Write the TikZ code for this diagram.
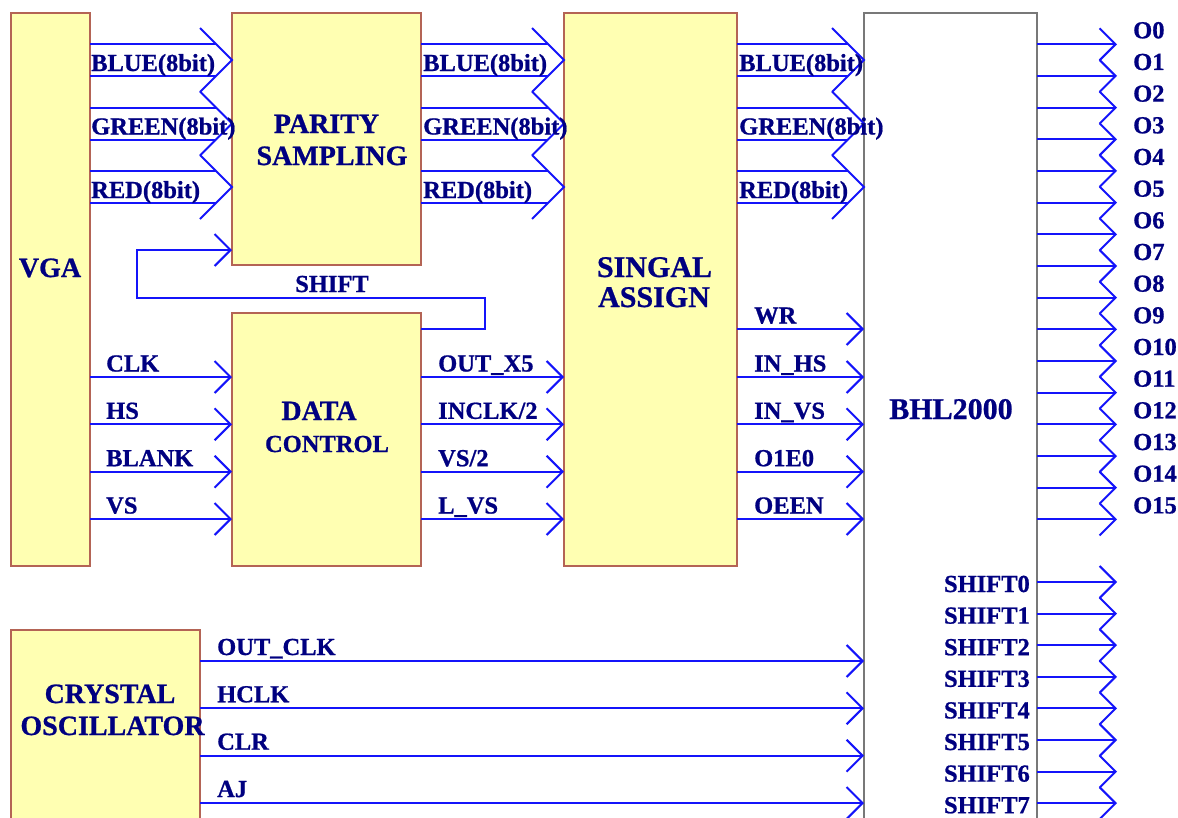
\documentclass[tikz,border=0pt]{standalone}
\usepackage{fontspec}
\setmainfont{Liberation Serif}[BoldFont={Liberation Serif Bold}]
\newfontfamily\heavyfont{Liberation Serif Bold}[FakeBold=0.8]
\usetikzlibrary{arrows.meta,calc}
\definecolor{navy}{RGB}{0,0,128}
\definecolor{wire}{RGB}{20,20,250}
\definecolor{boxfill}{RGB}{255,255,178}
\definecolor{boxline}{RGB}{180,100,85}
\definecolor{bhlline}{RGB}{120,120,120}
\tikzset{
  box/.style={draw=boxline, fill=boxfill, line width=1.3pt, inner sep=0pt, outer sep=0pt, anchor=north west},
  bhlbox/.style={draw=bhlline, fill=white, line width=1.3pt, inner sep=0pt, outer sep=0pt, anchor=north west},
  title/.style={text=navy, font=\heavyfont\fontsize{28}{32}\selectfont, inner sep=0pt, anchor=base},
  bigtitle/.style={title, font=\heavyfont\fontsize{30}{34}\selectfont},
  lbl/.style={text=navy, font=\heavyfont\fontsize{24.5}{29}\selectfont, inner sep=0pt, anchor=base west},
  wireline/.style={draw=wire, line width=2pt},
  sig/.style={wireline, -{Straight Barb[length=16pt,width=32pt]}}
}
\begin{document}
\begin{tikzpicture}[x=1pt,y=-1pt]
\useasboundingbox (0,0) rectangle (1178,817);
\clip (0,0) rectangle (1178,817);
\fill[white] (0,0) rectangle (1178,817);

% boxes
\node[box, minimum width=79pt, minimum height=553pt] (vga) at (11,13) {};
\node[box, minimum width=189pt, minimum height=252pt] (ps) at (232,13) {};
\node[box, minimum width=189pt, minimum height=253pt] (dc) at (232,313) {};
\node[box, minimum width=173pt, minimum height=553pt] (sa) at (564,13) {};
\node[bhlbox, minimum width=173pt, minimum height=830pt] (bhl) at (864,13) {};
\node[box, minimum width=189pt, minimum height=230pt] (xo) at (11,630) {};

% titles
\node[title] (vgaT) at (50,277) {VGA};
\node[title] (psT1) at (326.5,133) {PARITY};
\node[title] (psT2) at (332,165) {SAMPLING};
\node[title] (dcT1) at (319,420) {DATA};
\node[title, font=\heavyfont\fontsize{24.5}{29}\selectfont] (dcT2) at (327,452) {CONTROL};
\node[bigtitle] (saT1) at (654.5,277) {SINGAL};
\node[bigtitle] (saT2) at (654,307) {ASSIGN};
\node[bigtitle] (bhlT) at (951,419) {BHL2000};
\node[title] (xoT1) at (110,703) {CRYSTAL};
\node[title] (xoT2) at (112.5,735) {OSCILLATOR};

% buses
\foreach \c/\t [count=\i] in {60/BLUE(8bit),123.5/GREEN(8bit),187/RED(8bit)} {
  \pgfmathsetmacro\ya{\c-16}
  \pgfmathsetmacro\yb{\c+16}
  \pgfmathsetmacro\yl{\c+11}
  % VGA -> PARITY SAMPLING
  \draw[wireline] (vga.east |- 0,\ya) -- ($(ps.west |- 0,\ya)+(-16,0)$);
  \draw[wireline] (vga.east |- 0,\yb) -- ($(ps.west |- 0,\yb)+(-16,0)$);
  \draw[wireline] ($(ps.west |- 0,\c)+(-32,-32)$) -- (ps.west |- 0,\c) -- ++(-32,32);
  \node[lbl] (busA\i) at (91,\yl) {\t};
  % PARITY SAMPLING -> SINGAL ASSIGN
  \draw[wireline] (ps.east |- 0,\ya) -- ($(sa.west |- 0,\ya)+(-16,0)$);
  \draw[wireline] (ps.east |- 0,\yb) -- ($(sa.west |- 0,\yb)+(-16,0)$);
  \draw[wireline] ($(sa.west |- 0,\c)+(-32,-32)$) -- (sa.west |- 0,\c) -- ++(-32,32);
  \node[lbl] (busB\i) at (423,\yl) {\t};
  % SINGAL ASSIGN -> BHL2000
  \draw[wireline] (sa.east |- 0,\ya) -- ($(bhl.west |- 0,\ya)+(-16,0)$);
  \draw[wireline] (sa.east |- 0,\yb) -- ($(bhl.west |- 0,\yb)+(-16,0)$);
  \draw[wireline] ($(bhl.west |- 0,\c)+(-32,-32)$) -- (bhl.west |- 0,\c) -- ++(-32,32);
  \node[lbl] (busC\i) at (739,\yl) {\t};
}

% VGA -> DATA CONTROL
\foreach \y/\t [count=\i] in {377/CLK,424.3/HS,471.7/BLANK,519/VS} {
  \draw[sig] (vga.east |- 0,\y) -- (dc.west |- 0,\y);
  \node[lbl] (inL\i) at (106,\y-5.5) {\t};
}
% DATA CONTROL -> SINGAL ASSIGN
\foreach \y/\t [count=\i] in {377/{OUT\_X5},424.3/{INCLK/2},471.7/{VS/2},519/{L\_VS}} {
  \draw[sig] (dc.east |- 0,\y) -- (sa.west |- 0,\y);
  \node[lbl] (dcL\i) at (438,\y-5.5) {\t};
}
% SINGAL ASSIGN -> BHL2000
\foreach \y/\t [count=\i] in {329/WR,377/{IN\_HS},424.3/{IN\_VS},471.7/O1E0,519/OEEN} {
  \draw[sig] (sa.east |- 0,\y) -- (bhl.west |- 0,\y);
  \node[lbl] (saL\i) at (754,\y-5.5) {\t};
}

% SHIFT feedback
\draw[sig] (dc.east |- 0,329) -- (485,329) -- (485,298) -- (137,298) -- (137,250) -- (ps.west |- 0,250);
\node[lbl, anchor=base] (shiftL) at (332,292) {SHIFT};

% CRYSTAL OSCILLATOR -> BHL2000
\foreach \y/\t [count=\i] in {661/{OUT\_CLK},708.3/HCLK,755.7/CLR,803/AJ} {
  \draw[sig] (xo.east |- 0,\y) -- (bhl.west |- 0,\y);
  \node[lbl] (xoL\i) at (217,\y-6) {\t};
}

% BHL2000 outputs O0..O15
\foreach \i in {0,...,15} {
  \pgfmathsetmacro\y{44.3+31.67*\i}
  \coordinate (oe\i) at (1117,\y);
  \draw[sig] (bhl.east |- oe\i) -- (oe\i);
  \node[lbl] (oL\i) at (1133,\y-6) {O\i};
}

% BHL2000 SHIFT outputs
\foreach \i in {0,...,7} {
  \pgfmathsetmacro\y{582+31.6*\i}
  \coordinate (se\i) at (1117,\y);
  \draw[sig] (bhl.east |- se\i) -- (se\i);
  \node[lbl, anchor=base east] (sL\i) at (1030,\y+10) {SHIFT\i};
}
\end{tikzpicture}
\end{document}
